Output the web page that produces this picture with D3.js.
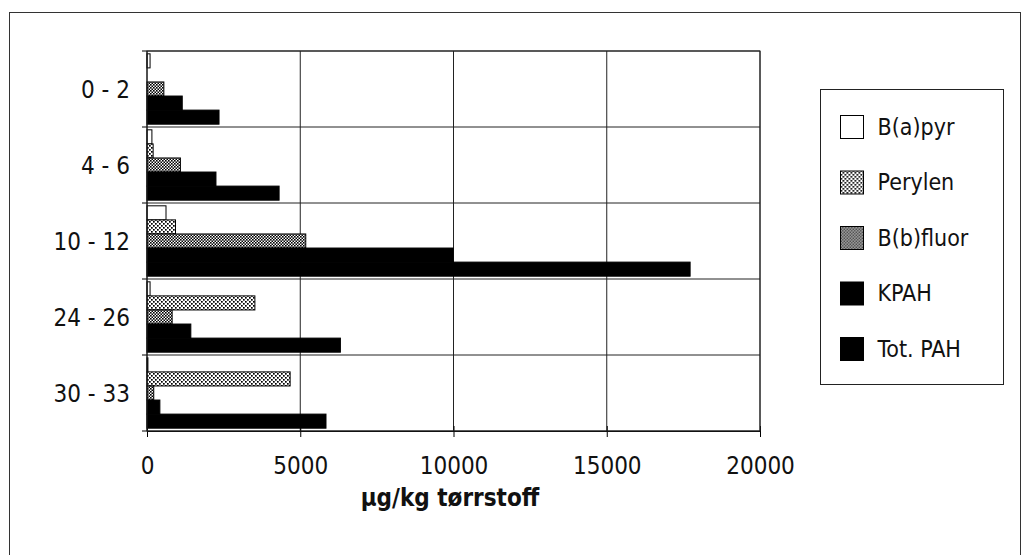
<!DOCTYPE html>
<html>
<head>
<meta charset="utf-8">
<script src="https://cdn.jsdelivr.net/npm/d3@7.9.0/dist/d3.min.js"></script>
<style>
  body { margin: 0; background: #fff; }
  svg { display: block; }
  text { font-family: "Liberation Sans Narrow", "DejaVu Sans Condensed", "Liberation Sans", sans-serif; fill: #111; }
</style>
</head>
<body>
<svg id="chart" width="1031" height="555"></svg>
<script>
// ---- data ----
const depths = ["0 - 2", "4 - 6", "10 - 12", "24 - 26", "30 - 33"];
const seriesNames = ["B(a)pyr", "Perylen", "B(b)fluor", "KPAH", "Tot. PAH"];
const bapyr   = [100, 160, 620, 100, 30];
const perylen = [0, 200, 930, 3520, 4670];
const bbfluor = [550, 1090, 5180, 820, 220];
const kpah    = [1150, 2250, 9990, 1430, 420];
const totpah  = [2350, 4310, 17720, 6310, 5840];
const xTicks  = [0, 5000, 10000, 15000, 20000];
const xTitle  = "µg/kg tørrstoff";

const seriesValues = [bapyr, perylen, bbfluor, kpah, totpah];
const rows = depths.map((d, i) => ({
  depth: d,
  values: seriesNames.map((s, j) => ({ key: s, value: seriesValues[j][i] }))
}));

// ---- setup ----
const svg = d3.select("#chart");
const margin = { top: 51, left: 147 };
const innerW = 613, innerH = 380;
const fills = ["#fff", "url(#patPerylen)", "url(#patBbfluor)", "#000", "#000"];

// outer frame
svg.append("rect")
  .attr("x", 9.5).attr("y", 12.5)
  .attr("width", 1011).attr("height", 560)
  .attr("fill", "none").attr("stroke", "#333").attr("stroke-width", 1);

// patterns
const defs = svg.append("defs");
const p1 = defs.append("pattern").attr("id", "patPerylen")
  .attr("width", 4).attr("height", 4).attr("patternUnits", "userSpaceOnUse");
p1.append("rect").attr("width", 4).attr("height", 4).attr("fill", "#fff");
p1.append("rect").attr("x", 0).attr("y", 0).attr("width", 1.7).attr("height", 1.7).attr("fill", "#000");
p1.append("rect").attr("x", 2).attr("y", 2).attr("width", 1.7).attr("height", 1.7).attr("fill", "#000");

const p2 = defs.append("pattern").attr("id", "patBbfluor")
  .attr("width", 3).attr("height", 3).attr("patternUnits", "userSpaceOnUse");
p2.append("rect").attr("width", 3).attr("height", 3).attr("fill", "#fff");
p2.append("rect").attr("x", 0).attr("y", 0).attr("width", 1.6).attr("height", 1.6).attr("fill", "#000");
p2.append("rect").attr("x", 1.5).attr("y", 1.5).attr("width", 1.6).attr("height", 1.6).attr("fill", "#000");

const g = svg.append("g").attr("transform", `translate(${margin.left},${margin.top})`);

// scales
const x = d3.scaleLinear().domain([0, 20000]).range([0, innerW]);
const y0 = d3.scaleBand().domain(depths).range([0, innerH]).padding(0);
const y1 = d3.scaleBand().domain(seriesNames).range([0, y0.bandwidth()])
  .paddingInner(0).paddingOuter(0.2);
const fill = d3.scaleOrdinal().domain(seriesNames).range(fills);

// gridlines
g.append("g")
  .selectAll("line.vg")
  .data(xTicks.slice(1))
  .join("line")
  .attr("x1", d => x(d)).attr("x2", d => x(d))
  .attr("y1", 0).attr("y2", innerH)
  .attr("stroke", "#222").attr("stroke-width", 1);

const hLines = depths.map(d => y0(d)).concat([innerH]);
g.append("g")
  .selectAll("line.hg")
  .data(hLines)
  .join("line")
  .attr("x1", 0).attr("x2", innerW)
  .attr("y1", d => d).attr("y2", d => d)
  .attr("stroke", "#222").attr("stroke-width", 1);

// bars
const groups = g.selectAll("g.grp")
  .data(rows)
  .join("g")
  .attr("class", "grp")
  .attr("transform", d => `translate(0,${y0(d.depth)})`);

groups.selectAll("rect")
  .data(d => d.values.filter(v => v.value > 0))
  .join("rect")
  .attr("x", 0)
  .attr("y", d => y1(d.key))
  .attr("width", d => x(d.value))
  .attr("height", y1.bandwidth())
  .attr("fill", d => fill(d.key))
  .attr("stroke", "#000")
  .attr("stroke-width", 1);

// x axis
const xAxis = g.append("g")
  .attr("transform", `translate(0,${innerH})`)
  .call(d3.axisBottom(x).tickValues(xTicks).tickFormat(d3.format("d")).tickSizeInner(6).tickSizeOuter(0).tickPadding(20));
xAxis.select(".domain").attr("stroke", "#000");
xAxis.selectAll(".tick line").attr("y1", -5).attr("stroke", "#000");
xAxis.selectAll(".tick text").attr("font-size", 24).attr("fill", "#111")
  .attr("font-family", "'Liberation Sans Narrow', 'DejaVu Sans Condensed', sans-serif");

// y axis (ticks at band boundaries)
const yAxis = g.append("g");
yAxis.append("line").attr("x1", 0).attr("x2", 0).attr("y1", 0).attr("y2", innerH).attr("stroke", "#000");
yAxis.selectAll("line.yt")
  .data(hLines)
  .join("line")
  .attr("x1", -5).attr("x2", 0)
  .attr("y1", d => d).attr("y2", d => d)
  .attr("stroke", "#000");
yAxis.selectAll("text")
  .data(depths)
  .join("text")
  .attr("x", -17)
  .attr("y", d => y0(d) + y0.bandwidth() / 2)
  .attr("dy", "0.36em")
  .attr("text-anchor", "end")
  .attr("font-size", 24)
  .text(d => d);

// plot frame
g.append("rect").attr("width", innerW).attr("height", innerH)
  .attr("fill", "none").attr("stroke", "#222");

// x title
svg.append("text")
  .attr("x", 450).attr("y", 506)
  .attr("text-anchor", "middle")
  .attr("font-family", "'DejaVu Sans', sans-serif")
  .attr("font-size", 24)
  .attr("font-weight", "bold")
  .text(xTitle);

// legend
const legend = svg.append("g").attr("transform", "translate(820.5,89.5)");
legend.append("rect").attr("width", 183).attr("height", 295)
  .attr("fill", "#fff").attr("stroke", "#222");
const items = legend.selectAll("g.item")
  .data(seriesNames)
  .join("g")
  .attr("class", "item")
  .attr("transform", (d, i) => `translate(20,${37 + i * 55.5})`);
items.append("rect")
  .attr("x", 0).attr("y", -11)
  .attr("width", 23).attr("height", 23)
  .attr("fill", d => fill(d))
  .attr("stroke", "#000");
items.append("text")
  .attr("x", 37).attr("y", 0).attr("dy", "0.36em")
  .attr("font-size", 23)
  .text(d => d);
</script>
</body>
</html>
